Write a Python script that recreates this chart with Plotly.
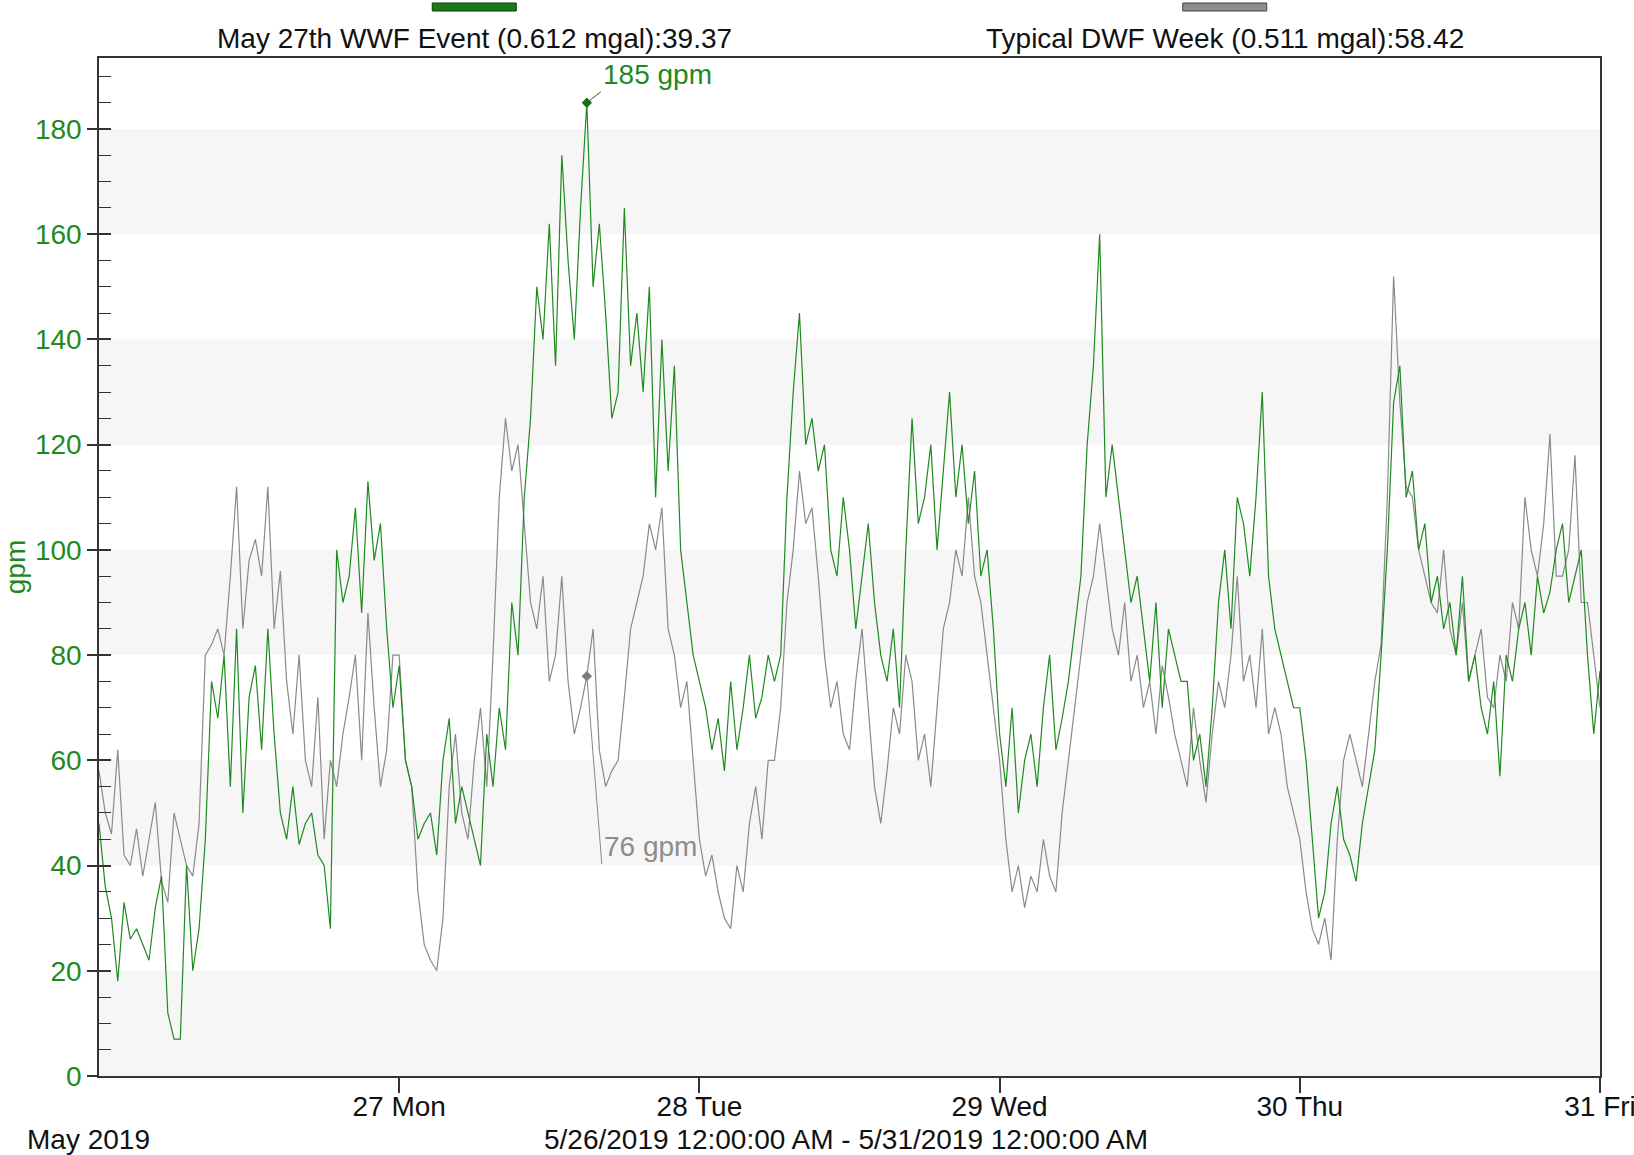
import pandas as pd
import plotly.graph_objects as go

# ---------------- data (30-minute readings, 5/26/2019 00:00 -> 5/31/2019 00:00) ----------------
series_names = ["May 27th WWF Event (0.612 mgal):39.37", "Typical DWF Week (0.511 mgal):58.42"]

wwf_day1 = [48, 36, 30, 18, 33, 26, 28, 25, 22, 32, 38, 12, 7, 7, 40, 20, 28, 45, 75, 68, 80, 55, 85, 50,
            72, 78, 62, 85, 65, 50, 45, 55, 44, 48, 50, 42, 40, 28, 100, 90, 95, 108, 88, 113, 98, 105, 85, 70]
wwf_day2 = [78, 60, 55, 45, 48, 50, 42, 60, 68, 48, 55, 50, 45, 40, 65, 55, 70, 62, 90, 80, 110, 125, 150, 140,
            162, 135, 175, 155, 140, 165, 185, 150, 162, 145, 125, 130, 165, 135, 145, 130, 150, 110, 140, 115, 135, 100, 90, 80]
wwf_day3 = [75, 70, 62, 68, 58, 75, 62, 70, 80, 68, 72, 80, 75, 80, 110, 130, 145, 120, 125, 115, 120, 100, 95, 110,
            100, 85, 95, 105, 90, 80, 75, 85, 70, 100, 125, 105, 110, 120, 100, 115, 130, 110, 120, 105, 115, 95, 100, 85]
wwf_day4 = [65, 55, 70, 50, 60, 65, 55, 70, 80, 62, 68, 75, 85, 95, 120, 135, 160, 110, 120, 110, 100, 90, 95, 85,
            75, 90, 70, 85, 80, 75, 75, 60, 65, 55, 70, 90, 100, 85, 110, 105, 95, 110, 130, 95, 85, 80, 75, 70]
wwf_day5 = [70, 60, 45, 30, 35, 48, 55, 45, 42, 37, 48, 55, 62, 80, 100, 128, 135, 110, 115, 100, 105, 90, 95, 85,
            90, 80, 95, 75, 80, 70, 65, 75, 57, 80, 75, 85, 90, 80, 95, 88, 92, 100, 105, 90, 95, 100, 80, 65, 77]

dwf_day1 = [58, 50, 46, 62, 42, 40, 47, 38, 45, 52, 37, 33, 50, 45, 40, 38, 48, 80, 82, 85, 80, 95, 112, 85,
            98, 102, 95, 112, 85, 96, 75, 65, 80, 60, 55, 72, 45, 60, 55, 65, 72, 80, 60, 88, 70, 55, 62, 80]
dwf_day2 = [80, 60, 55, 35, 25, 22, 20, 30, 55, 65, 50, 45, 60, 70, 55, 80, 110, 125, 115, 120, 105, 90, 85, 95,
            75, 80, 95, 75, 65, 70, 76, 85, 62, 55, 58, 60, 72, 85, 90, 95, 105, 100, 108, 85, 80, 70, 75, 60]
dwf_day3 = [45, 38, 42, 35, 30, 28, 40, 35, 48, 55, 45, 60, 60, 70, 90, 100, 115, 105, 108, 95, 80, 70, 75, 65,
            62, 75, 85, 70, 55, 48, 58, 70, 65, 80, 75, 60, 65, 55, 70, 85, 90, 100, 95, 110, 95, 90, 80, 70]
dwf_day4 = [60, 45, 35, 40, 32, 38, 35, 45, 38, 35, 50, 60, 70, 80, 90, 95, 105, 95, 85, 80, 90, 75, 80, 70,
            75, 65, 78, 72, 65, 60, 55, 70, 60, 52, 65, 75, 70, 80, 95, 75, 80, 70, 85, 65, 70, 65, 55, 50]
dwf_day5 = [45, 35, 28, 25, 30, 22, 45, 60, 65, 60, 55, 65, 75, 82, 110, 152, 128, 112, 110, 100, 95, 90, 88, 100,
            85, 80, 90, 75, 80, 85, 72, 70, 80, 75, 90, 85, 110, 100, 95, 105, 122, 95, 95, 100, 118, 90, 90, 80, 70]

wwf_values = wwf_day1 + wwf_day2 + wwf_day3 + wwf_day4 + wwf_day5
dwf_values = dwf_day1 + dwf_day2 + dwf_day3 + dwf_day4 + dwf_day5

start_time = "2019-05-26 00:00"
end_time = "2019-05-31 00:00"
times = pd.date_range(start_time, periods=len(wwf_values), freq="30min")

# cursor readout
cursor_time = "2019-05-27 15:00"
cursor_values = [185, 76]
cursor_labels = ["185 gpm", "76 gpm"]

# axis ticks
day_ticks = ["2019-05-27", "2019-05-28", "2019-05-29", "2019-05-30", "2019-05-31"]
day_labels = ["27 Mon", "28 Tue", "29 Wed", "30 Thu", "31 Fri"]
band_starts = [0, 40, 80, 120, 160]
month_label = "May 2019"
range_label = "5/26/2019 12:00:00 AM - 5/31/2019 12:00:00 AM"

# ---------------- styling ----------------
GREEN = "#1f8a1f"
GREEN_TXT = "#1e8a1e"
GRAY = "#8a8a8a"
AXIS = "#333333"
FONT = "Liberation Sans, Arial, sans-serif"
FS = 28

fig = go.Figure()
fig.add_trace(go.Scatter(x=times, y=dwf_values, mode="lines", name=series_names[1],
                         line=dict(color=GRAY, width=1.2), showlegend=False))
fig.add_trace(go.Scatter(x=times, y=wwf_values, mode="lines", name=series_names[0],
                         line=dict(color=GREEN, width=1.2), showlegend=False))
fig.add_trace(go.Scatter(x=[cursor_time], y=[cursor_values[0]], mode="markers", showlegend=False,
                         marker=dict(symbol="diamond", size=8, color="#1a6e1a")))
fig.add_trace(go.Scatter(x=[cursor_time], y=[cursor_values[1]], mode="markers", showlegend=False,
                         marker=dict(symbol="diamond", size=8, color="#7a7a7a")))

shapes = []
for lo in band_starts:
    shapes.append(dict(type="rect", xref="paper", yref="y", x0=0, x1=1, y0=lo, y1=lo + 20,
                       fillcolor="#f6f6f6", line=dict(width=0), layer="below"))
# legend swatches
for xc, col, edge in [(0.25, "#1a7a1a", "#0d3d0d"), (0.75, "#8c8c8c", "#444444")]:
    shapes.append(dict(type="rect", xref="paper", yref="paper", xsizemode="pixel", ysizemode="pixel",
                       xanchor=xc, yanchor=1, x0=-42, x1=42, y0=47, y1=55,
                       fillcolor=col, line=dict(color=edge, width=1)))

annotations = [
    dict(text=series_names[0], xref="paper", yref="paper", x=0.25, y=1, yshift=20, showarrow=False,
         xanchor="center", yanchor="middle", font=dict(family=FONT, size=FS, color="#111111")),
    dict(text=series_names[1], xref="paper", yref="paper", x=0.75, y=1, yshift=20, showarrow=False,
         xanchor="center", yanchor="middle", font=dict(family=FONT, size=FS, color="#111111")),
    dict(text=month_label, xref="paper", yref="paper", x=-0.0067, y=0, yshift=-63, showarrow=False,
         xanchor="center", yanchor="middle", font=dict(family=FONT, size=FS, color="#111111")),
    dict(text=range_label, xref="paper", yref="paper", x=0.498, y=0, yshift=-63, showarrow=False,
         xanchor="center", yanchor="middle", font=dict(family=FONT, size=FS, color="#111111")),
    dict(text=cursor_labels[0], x=cursor_time, y=cursor_values[0], xref="x", yref="y",
         showarrow=True, arrowhead=0, arrowwidth=1, arrowcolor="#1a6e1a", ax=14, ay=-11,
         xanchor="left", yanchor="bottom", font=dict(family=FONT, size=FS, color=GREEN_TXT)),
    dict(text=cursor_labels[1], x=cursor_time, y=cursor_values[1], xref="x", yref="y",
         showarrow=True, arrowhead=0, arrowwidth=1, arrowcolor="#888888", ax=15, ay=188,
         xanchor="left", yanchor="bottom", font=dict(family=FONT, size=FS, color="#8c8c8c")),
]

fig.update_layout(
    width=1634, height=1155,
    margin=dict(l=99, r=34, t=58, b=79, pad=0, autoexpand=False),
    paper_bgcolor="white", plot_bgcolor="white",
    shapes=shapes, annotations=annotations,
    font=dict(family=FONT, size=FS, color="#111111"),
    xaxis=dict(type="date", range=[start_time, end_time], tickvals=day_ticks, ticktext=day_labels,
               ticks="outside", ticklen=15, tickwidth=1.5, tickcolor=AXIS, showgrid=False, zeroline=False,
               showline=True, linecolor=AXIS, linewidth=1.5, mirror=True, ticklabelstandoff=-10,
               ticklabeloverflow="allow", automargin=False,
               tickfont=dict(family=FONT, size=FS, color="#111111")),
    yaxis=dict(range=[0, 193.5], tick0=0, dtick=20, ticks="outside", ticklen=10, tickwidth=1.5,
               tickcolor=AXIS, showgrid=False, zeroline=False, showline=True, linecolor=AXIS,
               linewidth=1.5, mirror=True, automargin=False,
               minor=dict(dtick=5, tick0=0, ticks="inside", ticklen=12, tickwidth=1.2,
                          tickcolor=AXIS, showgrid=False),
               tickfont=dict(family=FONT, size=FS, color=GREEN_TXT),
               title=dict(text="gpm", standoff=6, font=dict(family=FONT, size=FS, color=GREEN_TXT))),
    yaxis2=dict(overlaying="y", side="left", range=[0, 193.5], tick0=0, dtick=20, ticks="inside",
                ticklen=12, tickwidth=1.5, tickcolor=AXIS, showticklabels=False, showgrid=False,
                zeroline=False, showline=False, automargin=False),
)
# dummy trace to activate yaxis2 ticks
fig.add_trace(go.Scatter(x=[start_time], y=[None], yaxis="y2", showlegend=False, hoverinfo="skip"))

fig.write_html("out.html", config={"displayModeBar": False},
               post_script="document.body.style.margin='0px';document.body.style.overflow='hidden';")
